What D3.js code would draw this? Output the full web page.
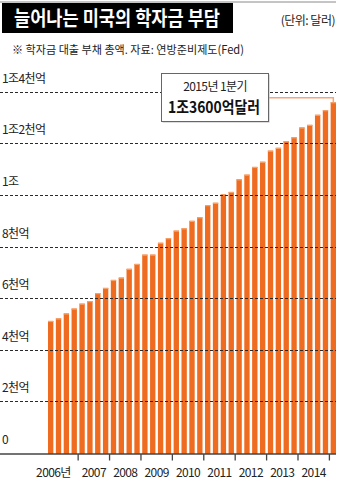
<!DOCTYPE html>
<html>
<head>
<meta charset="utf-8">
<script src="https://cdn.jsdelivr.net/npm/d3@7/dist/d3.min.js"></script>
<style>
  html, body { margin: 0; padding: 0; background: #fff; }
  svg { display: block; font-family: "Noto Sans CJK KR", "Noto Sans", sans-serif; }
</style>
</head>
<body>
<svg id="chart" width="350" height="484"></svg>
<script>
// Quarterly outstanding US student loan debt, 2006 Q1 – 2015 Q1 (billions of dollars)
const quarters = [
  "2006Q1","2006Q2","2006Q3","2006Q4",
  "2007Q1","2007Q2","2007Q3","2007Q4",
  "2008Q1","2008Q2","2008Q3","2008Q4",
  "2009Q1","2009Q2","2009Q3","2009Q4",
  "2010Q1","2010Q2","2010Q3","2010Q4",
  "2011Q1","2011Q2","2011Q3","2011Q4",
  "2012Q1","2012Q2","2012Q3","2012Q4",
  "2013Q1","2013Q2","2013Q3","2013Q4",
  "2014Q1","2014Q2","2014Q3","2014Q4",
  "2015Q1"
];
const debt = [
  512, 522, 541, 560,
  579, 589, 620, 640,
  671, 680, 714, 733,
  769, 769, 815, 833,
  862, 871, 900, 914,
  961, 970, 1003, 1012,
  1061, 1079, 1109, 1129,
  1172, 1183, 1209, 1224,
  1262, 1272, 1311, 1329,
  1360
];
const yearLabels = ["2006년","2007","2008","2009","2010","2011","2012","2013","2014"];
const yTickValues = [0, 200, 400, 600, 800, 1000, 1200, 1400];
const yTickLabels = ["0","2천억","4천억","6천억","8천억","1조","1조2천억","1조4천억"];
const calloutPeriod = "2015년 1분기";
const calloutValue = "1조3600억달러";

const svg = d3.select("#chart");
const orange = "#ee6b1f";

// Scales
const x = d3.scaleBand().domain(quarters).range([48, 336]).paddingInner(0.32).paddingOuter(0);
const y = d3.scaleLinear().domain([0, 1400]).range([453, 91.8]);
const gap = x.step() - x.bandwidth();

// Header
svg.append("line").attr("x1", 0).attr("x2", 336).attr("y1", 2).attr("y2", 2)
  .attr("stroke", "#8a8a8a").attr("stroke-width", 1);
svg.append("rect").attr("x", 2).attr("y", 3).attr("width", 231).attr("height", 30).attr("fill", "#000");
svg.append("text").attr("x", 14).attr("y", 26)
  .attr("fill", "#fff").attr("font-size", 20).attr("font-weight", 700)
  .attr("textLength", 206).attr("lengthAdjust", "spacingAndGlyphs")
  .text("늘어나는 미국의 학자금 부담");
svg.append("text").attr("x", 335).attr("y", 25).attr("text-anchor", "end")
  .attr("fill", "#222").attr("font-size", 12).attr("letter-spacing", -0.5)
  .text("(단위: 달러)");
svg.append("text").attr("x", 12).attr("y", 54)
  .attr("fill", "#222").attr("font-size", 11.5)
  .attr("textLength", 232).attr("lengthAdjust", "spacingAndGlyphs")
  .text("※ 학자금 대출 부채 총액.  자료: 연방준비제도(Fed)");

// Bars
const bars = svg.append("g");
bars.selectAll("rect.bar").data(debt).join("rect")
  .attr("class", "bar")
  .attr("x", (d, i) => x(quarters[i]))
  .attr("y", d => y(d))
  .attr("width", x.bandwidth())
  .attr("height", d => y(0) - y(d) + 1)
  .attr("fill", orange);
// light cap on each bar
bars.selectAll("rect.cap").data(debt).join("rect")
  .attr("class", "cap")
  .attr("x", (d, i) => x(quarters[i]))
  .attr("y", d => y(d))
  .attr("width", x.bandwidth())
  .attr("height", 1.2)
  .attr("fill", "#f6a36c");

// Grid lines and value labels
const grid = svg.append("g");
yTickValues.forEach((v, i) => {
  if (v > 0) {
    grid.append("line")
      .attr("x1", 0).attr("x2", 336)
      .attr("y1", Math.round(y(v)) + 0.5).attr("y2", Math.round(y(v)) + 0.5)
      .attr("stroke", "#2a2a2a").attr("stroke-width", 1)
      .attr("stroke-dasharray", "3,2");
  }
  grid.append("text")
    .attr("x", 2).attr("y", y(v) - 9)
    .attr("fill", "#222").attr("font-size", 12).attr("letter-spacing", -0.6)
    .text(yTickLabels[i]);
});

// Baseline axis with year ticks between years
const yearStart = yearLabels.map((_, k) => x(quarters[k * 4]) - gap / 2);
const yearEnd = yearLabels.map((_, k) => x(quarters[k * 4 + 4]) - gap / 2);
const axisY = y(0) + 1;
svg.append("line").attr("x1", 0).attr("x2", 336).attr("y1", axisY).attr("y2", axisY)
  .attr("stroke", "#444").attr("stroke-width", 1.3);
const xAxis = svg.append("g");
xAxis.selectAll("line.tick").data(yearEnd).join("line")
  .attr("class", "tick")
  .attr("x1", d => d).attr("x2", d => d)
  .attr("y1", axisY).attr("y2", axisY + 6.5)
  .attr("stroke", "#444").attr("stroke-width", 1.3);
xAxis.selectAll("text").data(yearLabels).join("text")
  .attr("x", (d, k) => (yearStart[k] + yearEnd[k]) / 2 + (k === 0 ? -9 : 0))
  .attr("y", 477)
  .attr("text-anchor", "middle")
  .attr("fill", "#222").attr("font-size", 12).attr("letter-spacing", -0.6)
  .text(d => d);

// Callout for the latest quarter
const lastQ = quarters[quarters.length - 1];
const lastV = debt[debt.length - 1];
const lx = x(lastQ) + x.bandwidth() / 2;
const leaderY = 97.7;
svg.append("path")
  .attr("d", `M269,${leaderY}H${lx}V${y(lastV)}`)
  .attr("fill", "none").attr("stroke", "#f5a679").attr("stroke-width", 1.5);
svg.append("rect").attr("x", 162.5).attr("y", 74.5).attr("width", 107).attr("height", 48)
  .attr("fill", "#bbb");
svg.append("rect").attr("x", 161.5).attr("y", 73.5).attr("width", 107).attr("height", 48)
  .attr("fill", "#fff").attr("stroke", "#666").attr("stroke-width", 1);
svg.append("text").attr("x", 215).attr("y", 91).attr("text-anchor", "middle")
  .attr("fill", "#222").attr("font-size", 12).attr("letter-spacing", -0.6)
  .text(calloutPeriod);
svg.append("text").attr("x", 214).attr("y", 113).attr("text-anchor", "middle")
  .attr("fill", "#111").attr("font-size", 16).attr("font-weight", 700)
  .attr("textLength", 92).attr("lengthAdjust", "spacingAndGlyphs")
  .text(calloutValue);
</script>
</body>
</html>
